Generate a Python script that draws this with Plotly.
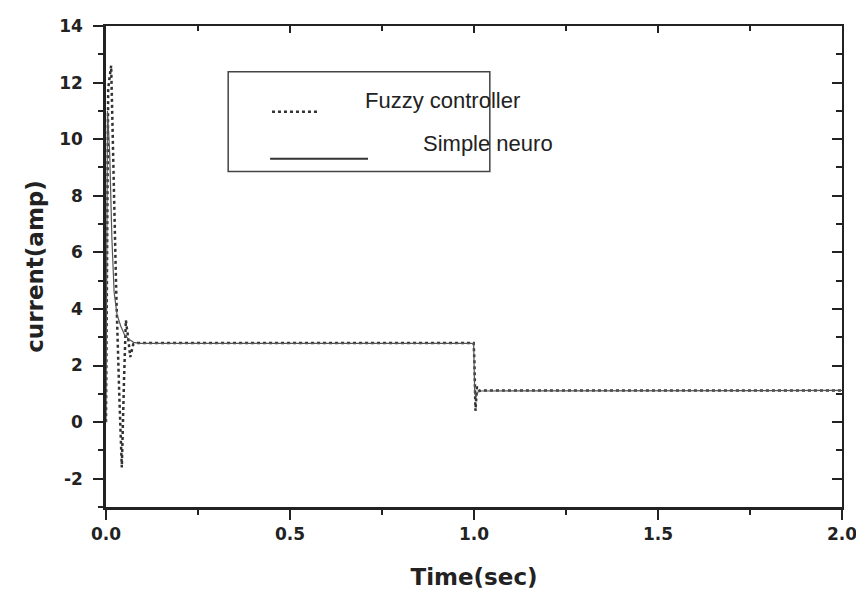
import plotly.graph_objects as go

# Time axis (s) and motor current (A) for the two controllers
t_fuzzy = [0.000, 0.006, 0.014, 0.020, 0.028, 0.036, 0.043, 0.049, 0.054, 0.060,
           0.066, 0.074, 0.085, 0.30, 0.60, 0.90, 0.999, 1.001, 1.004, 1.008,
           1.015, 1.030, 1.50, 2.000]
i_fuzzy = [0.0, 11.8, 12.6, 9.0, 4.5, 1.0, -1.6, 1.5, 3.6, 3.0,
           2.3, 2.75, 2.80, 2.80, 2.80, 2.80, 2.80, 2.2, 0.4, 1.25,
           1.10, 1.12, 1.12, 1.12]

t_neuro = [0.000, 0.004, 0.010, 0.016, 0.022, 0.030, 0.040, 0.050, 0.060, 0.075,
           0.090, 0.50, 0.999, 1.002, 1.006, 1.012, 1.50, 2.000]
i_neuro = [0.0, 11.0, 9.5, 6.5, 4.6, 3.8, 3.4, 3.1, 2.95, 2.82,
           2.78, 2.78, 2.78, 1.0, 0.9, 1.1, 1.12, 1.12]

x_ticks = [0.0, 0.5, 1.0, 1.5, 2.0]
x_tick_labels = ["0.0", "0.5", "1.0", "1.5", "2.0"]
y_ticks = [-2, 0, 2, 4, 6, 8, 10, 12, 14]
y_tick_labels = ["-2", "0", "2", "4", "6", "8", "10", "12", "14"]

series_names = ["Fuzzy controller", "Simple neuro"]

INK = "#222222"
TICK_FONT = dict(family="DejaVu Sans", size=17, color=INK, weight="bold")
TITLE_FONT = dict(family="DejaVu Sans", size=23, color=INK, weight="bold")
LEGEND_FONT = dict(family="Liberation Sans", size=22, color=INK)

fig = go.Figure()

# The neuro trace sits on the mirrored axes (same ranges) so the top/right frame is drawn
fig.add_trace(go.Scatter(
    x=t_neuro, y=i_neuro, mode="lines", name=series_names[1],
    xaxis="x2", yaxis="y2",
    line=dict(color="#555555", width=1.2), showlegend=False,
))
fig.add_trace(go.Scatter(
    x=t_fuzzy, y=i_fuzzy, mode="lines", name=series_names[0],
    line=dict(color="#333333", width=2.5, dash="3px,3px"), showlegend=False,
))

# Legend panel drawn in data space
fig.add_shape(type="rect", x0=0.332, x1=1.043, y0=8.86, y1=12.38,
              line=dict(color="#444444", width=1.5), fillcolor="rgba(0,0,0,0)")
fig.add_shape(type="line", x0=0.451, x1=0.576, y0=10.97, y1=10.97,
              line=dict(color="#333333", width=2.5, dash="3px,3px"))
fig.add_shape(type="line", x0=0.446, x1=0.712, y0=9.31, y1=9.31,
              line=dict(color="#333333", width=2))
fig.add_annotation(x=0.698, y=11.35, text=series_names[0], showarrow=False,
                   xanchor="left", yanchor="middle", font=LEGEND_FONT)
fig.add_annotation(x=0.855, y=9.84, text=series_names[1], showarrow=False,
                   xanchor="left", yanchor="middle", font=LEGEND_FONT)

X_RANGE = [0, 2]
Y_RANGE = [-3, 14]

fig.update_layout(
    width=856, height=594,
    margin=dict(l=106, r=14, t=26, b=87, autoexpand=False),
    paper_bgcolor="white", plot_bgcolor="white",
    showlegend=False,
    xaxis=dict(
        range=X_RANGE, tickvals=x_ticks, ticktext=x_tick_labels,
        showgrid=False, zeroline=False, automargin=False,
        showline=True, linecolor=INK, linewidth=2.5,
        ticks="outside", ticklen=10, tickwidth=2, tickcolor=INK,
        minor=dict(dtick=0.25, tick0=0, ticks="outside", ticklen=5, tickwidth=1.5, tickcolor=INK, showgrid=False),
        tickfont=TICK_FONT, ticklabeloverflow="allow",
        title=dict(text="Time(sec)", font=TITLE_FONT, standoff=26),
    ),
    yaxis=dict(
        range=Y_RANGE, tickvals=y_ticks, ticktext=y_tick_labels,
        showgrid=False, zeroline=False, automargin=False,
        showline=True, linecolor=INK, linewidth=2.5,
        ticks="outside", ticklen=10, tickwidth=2, tickcolor=INK,
        minor=dict(dtick=1, tick0=0, ticks="outside", ticklen=5, tickwidth=1.5, tickcolor=INK, showgrid=False),
        tickfont=TICK_FONT, ticklabelstandoff=7,
        title=dict(text="current(amp)", font=TITLE_FONT, standoff=10),
    ),
    # frame on the top and right with inward ticks
    xaxis2=dict(
        range=X_RANGE, overlaying="x", side="top", anchor="y2", automargin=False,
        tickvals=x_ticks, showticklabels=False, showgrid=False, zeroline=False,
        showline=True, linecolor=INK, linewidth=2,
        ticks="inside", ticklen=7, tickwidth=2, tickcolor=INK,
        minor=dict(dtick=0.25, tick0=0, ticks="inside", ticklen=5, tickwidth=1.5, tickcolor=INK, showgrid=False),
    ),
    yaxis2=dict(
        range=Y_RANGE, overlaying="y", side="right", anchor="x2", automargin=False,
        tickvals=y_ticks, showticklabels=False, showgrid=False, zeroline=False,
        showline=True, linecolor=INK, linewidth=2,
        ticks="inside", ticklen=10, tickwidth=2, tickcolor=INK,
        minor=dict(dtick=1, tick0=0, ticks="inside", ticklen=6, tickwidth=1.5, tickcolor=INK, showgrid=False),
    ),
)

fig.write_html("out.html")
